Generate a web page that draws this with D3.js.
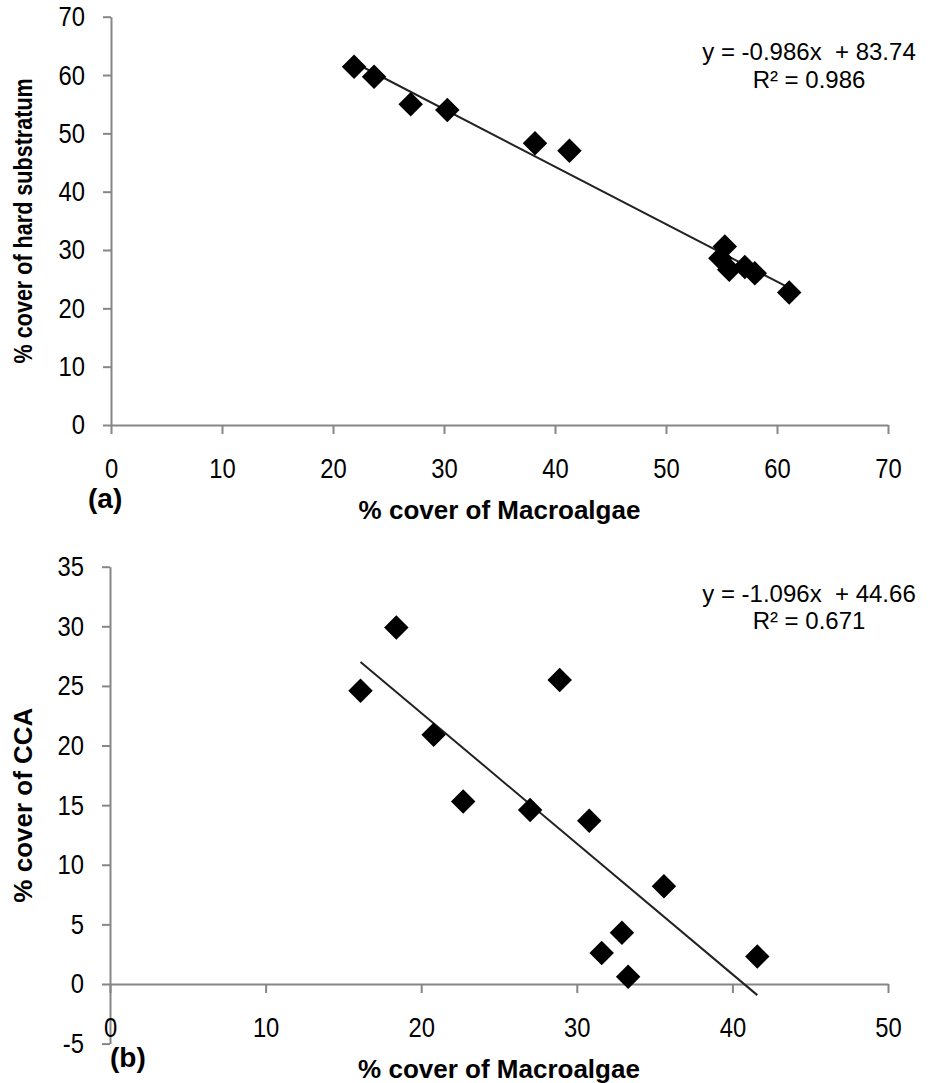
<!DOCTYPE html>
<html lang="en">
<head>
  <meta charset="UTF-8">
  <title>Macroalgae scatter</title>
  <script src="https://d3js.org/d3.v7.min.js"></script>
  <style>
    body {
      margin: 0;
      background: #fff;
      font-family: "Liberation Sans", Arial, sans-serif;
    }
    .eq { white-space: pre; }
  </style>
</head>
<body>

<svg width="928" height="1083"></svg>

<script>

  // panel (a): macroalgae vs hard substratum
  const macroA  = [21.9, 23.7, 27.0, 30.3, 38.2, 41.3, 55.3, 54.9, 55.7, 57.1, 58.0, 61.1];
  const hardSub = [61.4, 59.7, 55.0, 54.0, 48.3, 47.0, 30.6, 28.6, 26.6, 27.1, 26.0, 22.7];
  const trendA  = [-0.986, 83.74, 0.986];   // slope, intercept, R2
  const xTicksA = [0, 10, 20, 30, 40, 50, 60, 70];
  const yTicksA = [0, 10, 20, 30, 40, 50, 60, 70];

  // panel (b): macroalgae vs CCA
  const macroB  = [16.1, 18.4, 20.8, 22.7, 27.0, 28.9, 30.8, 31.6, 32.9, 33.3, 35.6, 41.6];
  const cca     = [24.6, 29.9, 20.9, 15.3, 14.6, 25.5, 13.7, 2.6, 4.3, 0.6, 8.2, 2.3];
  const trendB  = [-1.096, 44.66, 0.671];
  const xTicksB = [0, 10, 20, 30, 40, 50];
  const yTicksB = [-5, 0, 5, 10, 15, 20, 25, 30, 35];

  const svg = d3.select("svg");
  const axisColor = "#868686";
  const narrow = 0.85;   // tick labels look condensed in the original

  function drawPanel(p) {
    const g = svg.append("g");

    const x = d3.scaleLinear()
      .domain(d3.extent(p.xTicks))
      .range(p.xRange);
    const y = d3.scaleLinear()
      .domain(d3.extent(p.yTicks))
      .range(p.yRange);

    // y axis
    const yAxis = g.append("g")
      .attr("transform", `translate(${p.xRange[0]},0)`)
      .call(d3.axisLeft(y).tickValues(p.yTicks).tickFormat(d => String(d))
        .tickSize(8).tickPadding(18).tickSizeOuter(0));

    // x axis sits on y = 0
    const xAxis = g.append("g")
      .attr("transform", `translate(0,${y(0)})`)
      .call(d3.axisBottom(x).tickValues(p.xTicks).tickFormat(d => String(d))
        .tickSize(9).tickPadding(24).tickSizeOuter(0));

    [yAxis, xAxis].forEach(a => {
      a.select(".domain").attr("stroke", axisColor).attr("stroke-width", 2);
      a.selectAll(".tick line").attr("stroke", axisColor).attr("stroke-width", 2);
      a.selectAll(".tick text")
        .attr("fill", "#000")
        .attr("transform", `scale(${narrow},1)`)
        .style("font-size", "28px");
    });
    yAxis.selectAll(".tick text").attr("x", -26 / narrow);

    // trendline from min x to max x
    const [m, b, r2] = p.trend;
    const ext = d3.extent(p.xs);
    g.append("line")
      .attr("x1", x(ext[0])).attr("y1", y(m * ext[0] + b))
      .attr("x2", x(ext[1])).attr("y2", y(m * ext[1] + b))
      .attr("stroke", "#222")
      .attr("stroke-width", 2);

    // diamonds
    const diamond = d3.symbol().type(d3.symbolSquare).size(300);
    g.selectAll("path.pt")
      .data(p.xs.map((v, i) => [v, p.ys[i]]))
      .join("path")
      .attr("class", "pt")
      .attr("d", diamond)
      .attr("transform", d => `translate(${x(d[0])},${y(d[1])}) rotate(45)`)
      .attr("fill", "#000");

    // equation
    const sign = b >= 0 ? "+" : "-";
    g.append("text")
      .attr("class", "eq")
      .attr("x", 809).attr("y", p.eqY)
      .attr("text-anchor", "middle")
      .style("font-size", "24px")
      .text(`y = ${m.toFixed(3)}x  ${sign} ${Math.abs(b).toFixed(2)}`);
    g.append("text")
      .attr("x", 809).attr("y", p.eqY + p.eqGap)
      .attr("text-anchor", "middle")
      .style("font-size", "24px")
      .text(`R² = ${r2.toFixed(3)}`);

    // axis titles
    g.append("text")
      .attr("x", (p.xRange[0] + p.xRange[1]) / 2)
      .attr("y", y(0) + 94)
      .attr("text-anchor", "middle")
      .style("font-size", "26px")
      .style("font-weight", "bold")
      .text(p.xTitle);

    g.append("text")
      .attr("transform", `translate(32,${(p.yRange[0] + p.yRange[1]) / 2}) rotate(-90) scale(${p.yTitleScale},1)`)
      .attr("text-anchor", "middle")
      .style("font-size", "26px")
      .style("font-weight", "bold")
      .text(p.yTitle);

    // panel letter
    g.append("text")
      .attr("x", p.letterX)
      .attr("y", y(0) + 83)
      .style("font-size", "28px")
      .style("font-weight", "bold")
      .text(p.letter);
  }

  drawPanel({
    xs: macroA, ys: hardSub, trend: trendA,
    xTicks: xTicksA, yTicks: yTicksA,
    xRange: [111, 888], yRange: [425, 16.7],
    eqY: 60, eqGap: 28,
    xTitle: "% cover of Macroalgae",
    yTitle: "% cover of hard substratum", yTitleScale: 0.83,
    letter: "(a)", letterX: 88
  });

  drawPanel({
    xs: macroB, ys: cca, trend: trendB,
    xTicks: xTicksB, yTicks: yTicksB,
    xRange: [110, 888], yRange: [1043.6, 566.7],
    eqY: 602, eqGap: 27,
    xTitle: "% cover of Macroalgae",
    yTitle: "% cover of CCA", yTitleScale: 1,
    letter: "(b)", letterX: 110
  });

</script>

</body>
</html>
